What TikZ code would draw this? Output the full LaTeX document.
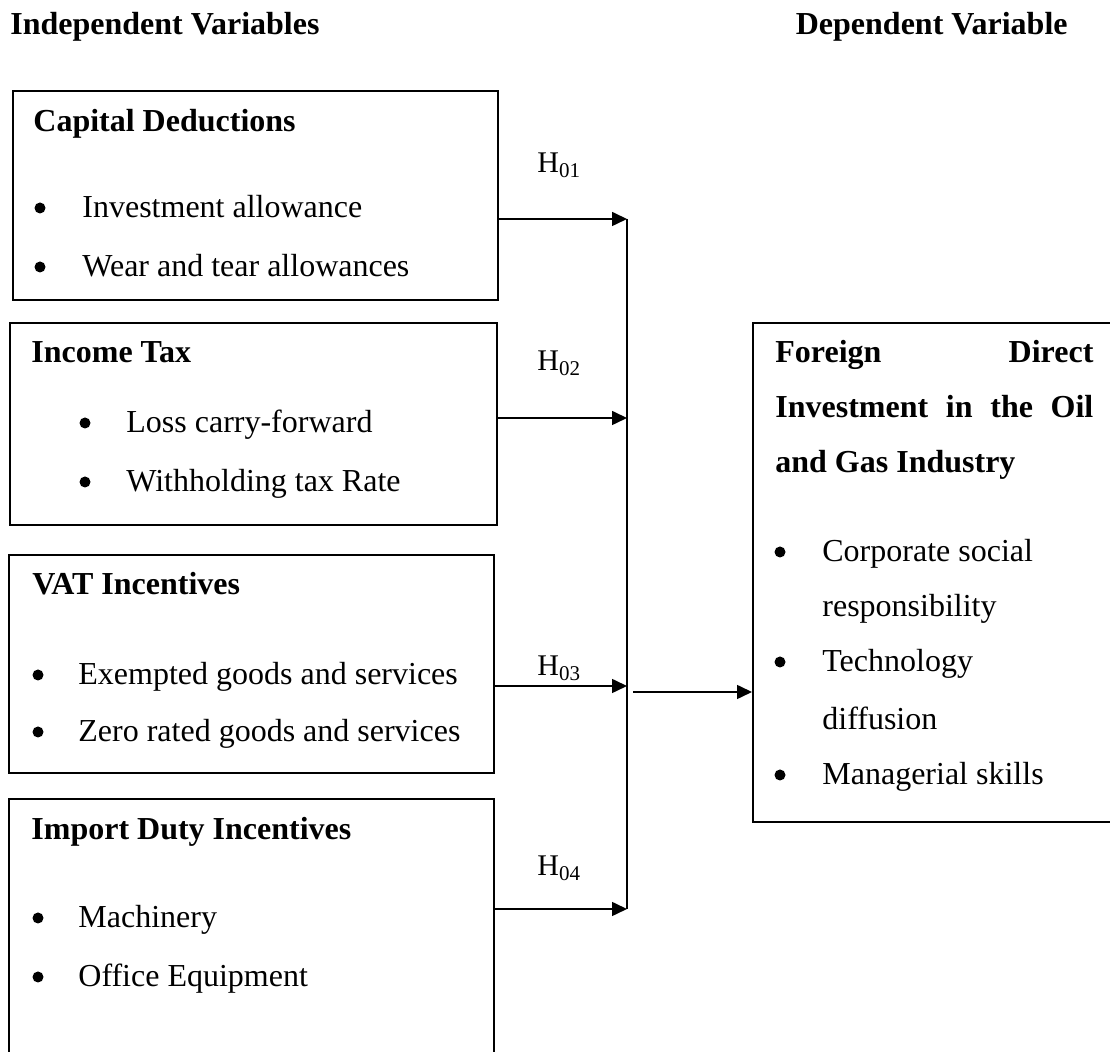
\documentclass[tikz,border=0pt]{standalone}
\usepackage{fontspec}
\setmainfont{Liberation Serif}
\usetikzlibrary{arrows.meta,fit}

\begin{document}
\begin{tikzpicture}[x=0.5pt, y=-0.5pt,
  txt/.style={inner sep=0pt, font=\fontsize{16}{19}\selectfont},
  ttl/.style={inner sep=0pt, font=\fontsize{16}{19}\selectfont\bfseries, anchor=base west},
  item/.style={txt, anchor=base west},
  dot/.style={circle, fill, inner sep=0pt, minimum size=5.5pt},
  hyp/.style={inner sep=0pt, font=\fontsize{15}{18}\selectfont, anchor=base west},
  varbox/.style={draw, line width=1pt, inner sep=0pt},
  link/.style={line width=0.8pt},
  arr/.style={link, -{Triangle[length=7.5pt, width=7pt]}}]
\useasboundingbox (0,0) rectangle (1110,1052);

\node[ttl] (indep) at (10,35) {Independent Variables};
\node[ttl, anchor=base east] (dep) at (1068,35) {Dependent Variable};

% independent variables
\node[varbox, fit={(13,91) (498,300)}] (capded) {};
\node[ttl] (capdedT) at (33,132) {Capital Deductions};
\foreach \y/\t [count=\i] in {218/Investment allowance, 277/Wear and tear allowances} {
  \node[dot] (capded-b\i) at (40,{\y-10}) {};
  \node[item] (capded-i\i) at (82,\y) {\t};
}

\node[varbox, fit={(10,323) (497,525)}] (inctax) {};
\node[ttl] (inctaxT) at (31,363) {Income Tax};
\foreach \y/\t [count=\i] in {433/Loss carry-forward, 492/Withholding tax Rate} {
  \node[dot] (inctax-b\i) at (85,{\y-10}) {};
  \node[item] (inctax-i\i) at (126,\y) {\t};
}

\node[varbox, fit={(9,555) (494,773)}] (vat) {};
\node[ttl] (vatT) at (32,595) {VAT Incentives};
\foreach \y/\t [count=\i] in {685/Exempted goods and services, 742/Zero rated goods and services} {
  \node[dot] (vat-b\i) at (38,{\y-10}) {};
  \node[item] (vat-i\i) at (78,\y) {\t};
}

\node[varbox, fit={(9,799) (494,1080)}] (impduty) {};
\node[ttl] (impdutyT) at (31,840) {Import Duty Incentives};
\foreach \y/\t [count=\i] in {928/Machinery, 987/Office Equipment} {
  \node[dot] (impduty-b\i) at (38,{\y-10}) {};
  \node[item] (impduty-i\i) at (78,\y) {\t};
}

% dependent variable
\node[varbox, fit={(753,323) (1130,822)}] (fdi) {};
\node[ttl] (fdiT1) at (775,363) {\makebox[159pt][s]{Foreign Direct}};
\node[ttl] (fdiT2) at (775,418) {\makebox[159pt][s]{Investment in the Oil}};
\node[ttl] (fdiT3) at (775,473) {and Gas Industry};
\foreach \y/\t/\b [count=\i] in {562/Corporate social/1, 617/responsibility/0, 672/Technology/1, 730/diffusion/0, 785/Managerial skills/1} {
  \ifnum\b=1 \node[dot] (fdi-b\i) at (780,{\y-10}) {}; \fi
  \node[item] (fdi-i\i) at (822,\y) {\t};
}

% hypotheses
\node[hyp] (h1) at (537,173) {H\textsubscript{01}};
\node[hyp] (h2) at (537,371) {H\textsubscript{02}};
\node[hyp] (h3) at (537,676) {H\textsubscript{03}};
\node[hyp] (h4) at (537,876) {H\textsubscript{04}};

\coordinate (j1) at (627,219);
\coordinate (j2) at (627,418);
\coordinate (j3) at (627,686);
\coordinate (j4) at (627,909);
\draw[arr] (capded.east |- j1) -- (j1);
\draw[arr] (inctax.east |- j2) -- (j2);
\draw[arr] (vat.east |- j3) -- (j3);
\draw[arr] (impduty.east |- j4) -- (j4);
\draw[link] (j1) -- (j4);
\coordinate (out) at (633,692);
\draw[arr] (out) -- (out -| fdi.west);
\end{tikzpicture}
\end{document}
